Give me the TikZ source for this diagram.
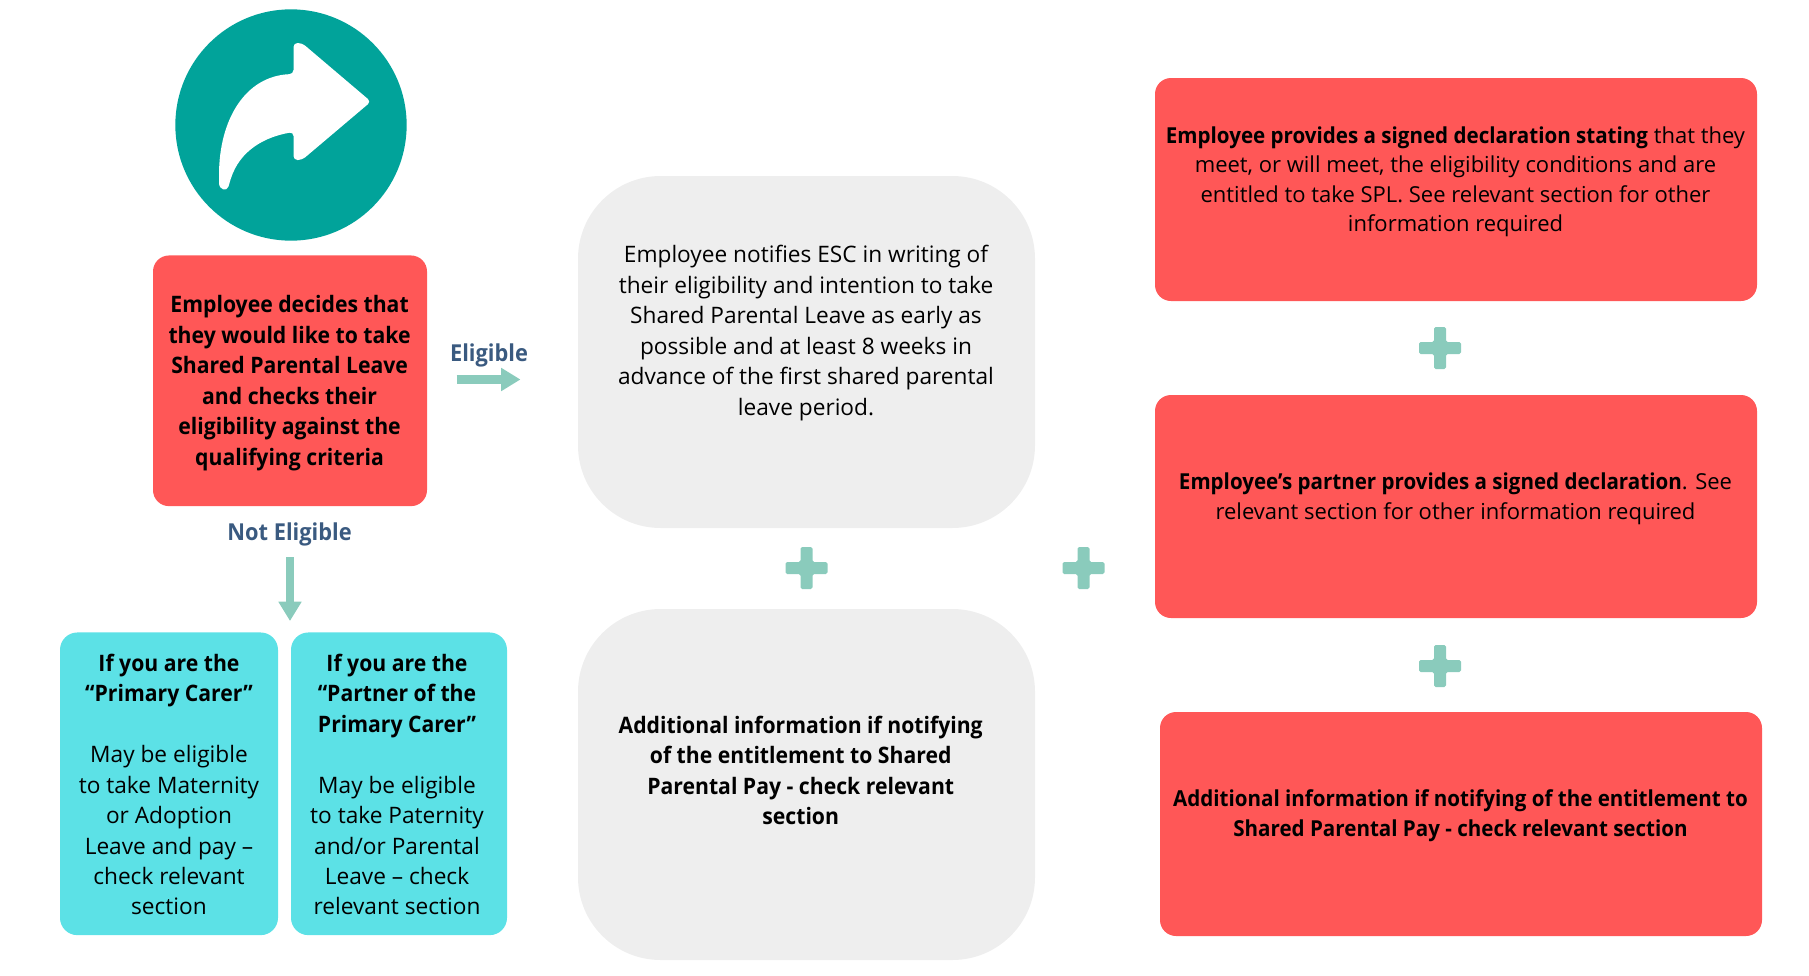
\documentclass[tikz,border=0pt]{standalone}
\usepackage{fontspec}
\setmainfont{Open Sans}[BoldFeatures={FakeStretch=0.935}]
\usetikzlibrary{arrows.meta,calc}
\definecolor{coral}{HTML}{FF5757}
\definecolor{aqua}{HTML}{5CE1E6}
\definecolor{pale}{HTML}{EEEEEE}
\definecolor{teal}{HTML}{01A39A}
\definecolor{mint}{HTML}{8ACBBC}
\definecolor{slate}{HTML}{3A5A80}
\newcommand\plusmark[1]{%
  \path[fill=mint,rounded corners=1.2pt] ($(#1)+(-21,-6)$) -- ($(#1)+(-6,-6)$) -- ($(#1)+(-6,-21)$) -- ($(#1)+(6,-21)$) -- ($(#1)+(6,-6)$) -- ($(#1)+(21,-6)$) -- ($(#1)+(21,6)$) -- ($(#1)+(6,6)$) -- ($(#1)+(6,21)$) -- ($(#1)+(-6,21)$) -- ($(#1)+(-6,6)$) -- ($(#1)+(-21,6)$) -- cycle;}
\tikzset{
  every node/.style={inner sep=0pt,outer sep=0pt},
  redbox/.style={fill=coral,rounded corners=12pt},
  cyanbox/.style={fill=aqua,rounded corners=13pt},
  greybox/.style={fill=pale,rounded corners=62pt},
  bigtext/.style={align=center,font=\fontsize{17pt}{22.85pt}\selectfont,text=black},
  smalltext/.style={align=center,font=\fontsize{16.5pt}{22.2pt}\selectfont,text=black},
  tag/.style={font=\fontsize{17.5pt}{20pt}\selectfont\bfseries,text=slate},
  blockarrow/.style={draw=mint,line width=6.6pt,-{Triangle[length=14.5pt,width=16.5pt]}},
}
\begin{document}
\begin{tikzpicture}[x=0.75pt,y=-0.75pt]
\useasboundingbox (0,0) rectangle (1809,975);
% icon
\node[circle,fill=teal,minimum size=173.5pt] (disc) at (291,125) {};
\path[fill=white,rounded corners=3pt]
  (293.5,74) .. controls (245,76) and (219,120) .. (219,179)
  .. controls (219,190) and (227,192) .. (229.6,182.5)
  .. controls (240,150) and (265,137) .. (293.5,132)
  -- (293.5,160) -- (302,160) -- (371,101.6) -- (302,43) -- (293.5,43) -- cycle;
% boxes
\node[redbox,minimum width=205.5pt,minimum height=188pt] (start) at (290,380.8) {};
\node[cyanbox,minimum width=163.5pt,minimum height=227pt] (primary) at (169,783.8) {};
\node[cyanbox,minimum width=162pt,minimum height=227pt] (partner) at (399,783.8) {};
\node[greybox,minimum width=342.75pt,minimum height=264pt] (notify) at (806.5,352) {};
\node[greybox,minimum width=342.75pt,minimum height=263.25pt] (addinfo) at (806.5,784.5) {};
\node[redbox,minimum width=451.5pt,minimum height=167.25pt] (decl) at (1456,189.5) {};
\node[redbox,minimum width=451.5pt,minimum height=167.25pt] (pdecl) at (1456,506.5) {};
\node[redbox,minimum width=451.5pt,minimum height=168pt] (addpay) at (1461,824) {};
% texts
\node[bigtext] (startT) at (289.6,383) {\bfseries Employee decides that\\\bfseries they would like to take\\\bfseries Shared Parental Leave\\\bfseries and checks their\\\bfseries eligibility against the\\\bfseries qualifying criteria};
\node[tag] (elig) at (489,355) {Eligible};
\node[tag] (notelig) at (289.6,534) {Not Eligible};
\node[bigtext] (primaryT) at (169,784.5) {\bfseries If you are the\\\bfseries “Primary Carer”\\[22.85pt]May be eligible\\to take Maternity\\or Adoption\\Leave and pay –\\check relevant\\section};
\node[bigtext] (partnerT) at (397,784.5) {\bfseries If you are the\\\bfseries “Partner of the\\\bfseries Primary Carer”\\[22.85pt]May be eligible\\to take Paternity\\and/or Parental\\Leave – check\\relevant section};
\node[bigtext] (notifyT) at (806,333) {Employee notifies ESC in writing of\\their eligibility and intention to take\\Shared Parental Leave as early as\\possible and at least 8 weeks in\\advance of the first shared parental\\leave period.};
\node[bigtext] (addinfoT) at (800.7,770.5) {\bfseries Additional information if notifying\\\bfseries of the entitlement to Shared\\\bfseries Parental Pay - check relevant\\\bfseries section};
\node[smalltext] (declT) at (1455.5,181.8) {\textbf{Employee provides a signed declaration stating} that they\\meet, or will meet, the eligibility conditions and are\\entitled to take SPL. See relevant section for other\\information required};
\node[smalltext] (pdeclT) at (1455.5,498.7) {\textbf{Employee’s partner provides a signed declaration}. See\\relevant section for other information required};
\node[smalltext] (addpayT) at (1460.5,816) {\bfseries Additional information if notifying of the entitlement to\\\bfseries Shared Parental Pay - check relevant section};
% arrows
\coordinate (a1) at (456.5,379.5); \coordinate (a2) at (520.5,379.5);
\coordinate (b1) at (290,557); \coordinate (b2) at (290,621);
\draw[blockarrow] (a1) -- (a2);
\draw[blockarrow] (b1) -- (b2);
% plus marks
\coordinate (p1) at (806.5,568); \coordinate (p2) at (1083.5,568);
\coordinate (p3) at (1440,348); \coordinate (p4) at (1440,666);
\plusmark{p1}\plusmark{p2}\plusmark{p3}\plusmark{p4}
\end{tikzpicture}
\end{document}
